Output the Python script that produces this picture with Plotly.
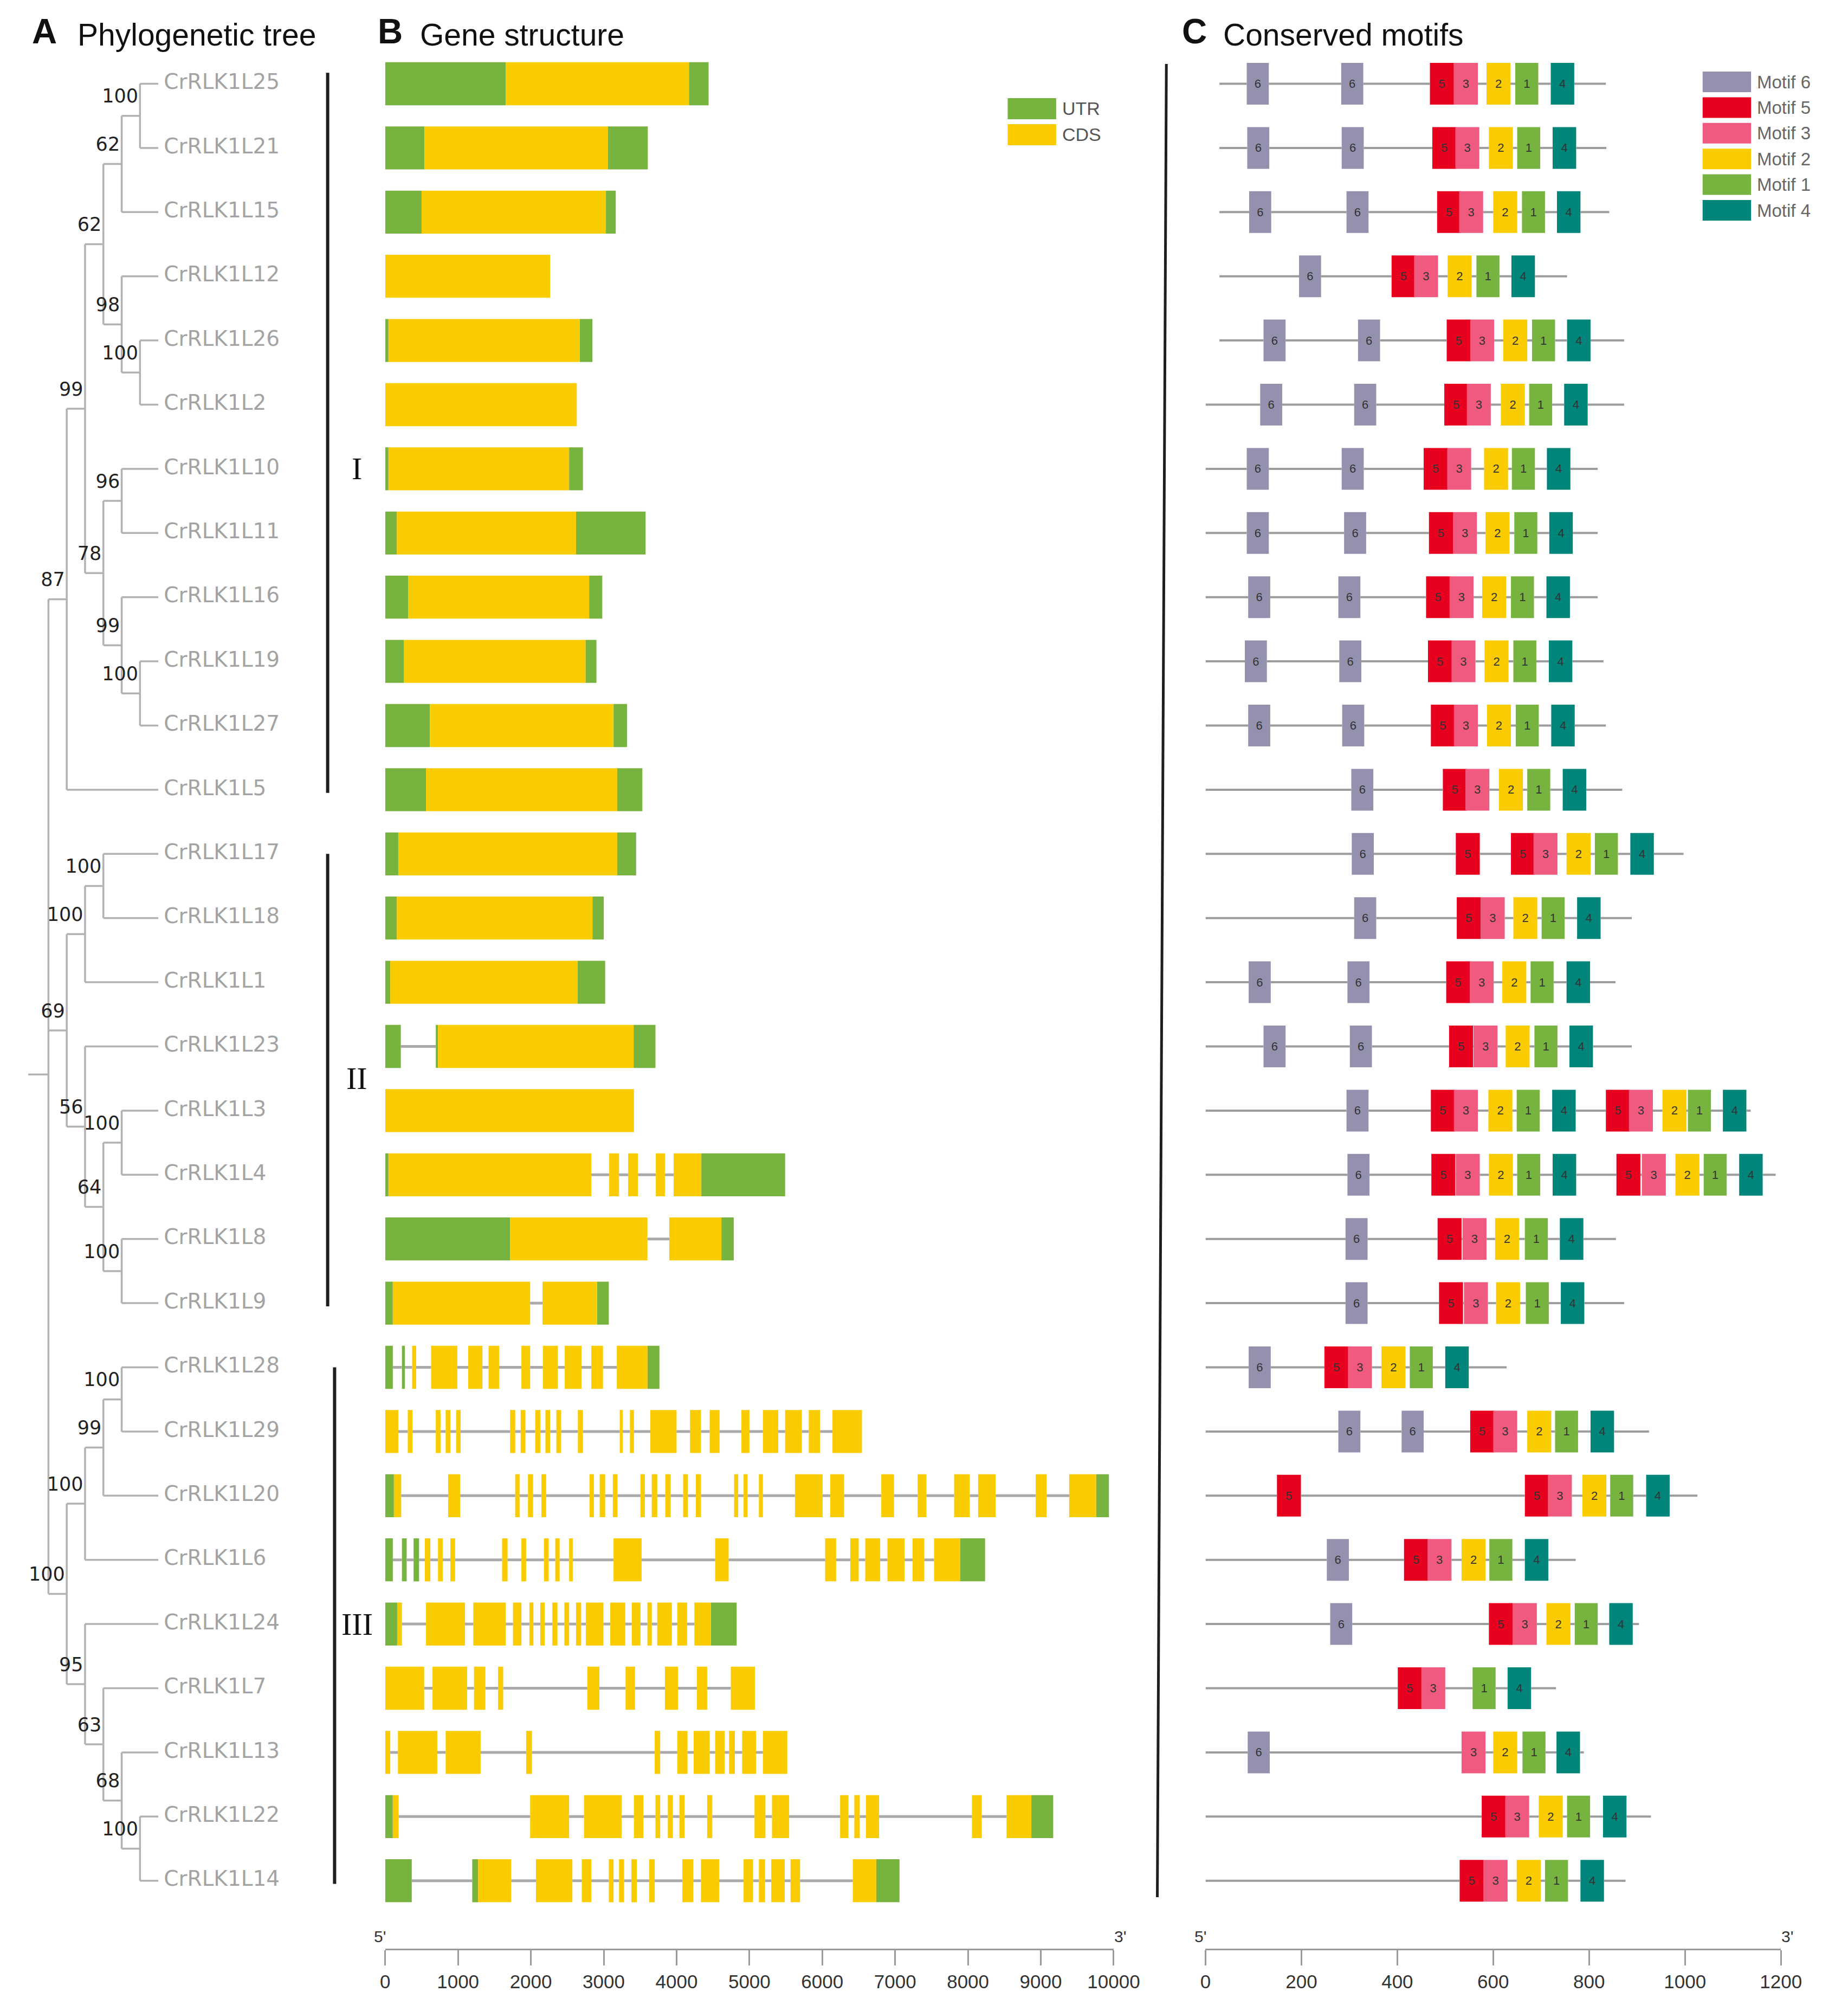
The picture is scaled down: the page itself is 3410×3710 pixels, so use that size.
import plotly.graph_objects as go

# -----------------------------------------------------------------------------
# canvas (page body keeps its default 8px margin, figure sized to fit window)
# -----------------------------------------------------------------------------
PAGE_W, PAGE_H, OFF = 3410, 3710, 8
W, H = PAGE_W - 2 * OFF, PAGE_H - 2 * OFF
FONT = "Liberation Sans, Arial, sans-serif"
LABEL_FONT = "DejaVu Sans, Arial, sans-serif"

UTR_COLOR = "#77b33f"
CDS_COLOR = "#facc00"
MOTIF_COLORS = {6: "#9491ae", 5: "#e8001f", 3: "#f05a7e",
                2: "#facc00", 1: "#77b33f", 4: "#00857a"}

# -----------------------------------------------------------------------------
# data
# -----------------------------------------------------------------------------
# topology (cladogram) with bootstrap support
NEWICK = ("((((((CrRLK1L25,CrRLK1L21)100,CrRLK1L15)62,(CrRLK1L12,(CrRLK1L26,CrRLK1L2)100)98)62,"
          "((CrRLK1L10,CrRLK1L11)96,(CrRLK1L16,(CrRLK1L19,CrRLK1L27)100)99)78)99,CrRLK1L5)87,"
          "(((CrRLK1L17,CrRLK1L18)100,CrRLK1L1)100,(CrRLK1L23,((CrRLK1L3,CrRLK1L4)100,"
          "(CrRLK1L8,CrRLK1L9)100)64)56)69,"
          "((((CrRLK1L28,CrRLK1L29)100,CrRLK1L20)99,CrRLK1L6)100,"
          "(CrRLK1L24,(CrRLK1L7,(CrRLK1L13,(CrRLK1L22,CrRLK1L14)100)68)63)95)100);")
PREFIX = "CrRLK1"

# gene structure (bp): UTR and CDS segments
UTR = {
    "L25": [(0, 1655), (4170, 4440)],
    "L21": [(0, 540), (3055, 3605)],
    "L15": [(0, 500), (3030, 3165)],
    "L12": [],
    "L26": [(0, 45), (2670, 2845)],
    "L2": [],
    "L10": [(0, 45), (2525, 2715)],
    "L11": [(0, 160), (2620, 3575)],
    "L16": [(0, 315), (2800, 2980)],
    "L19": [(0, 255), (2750, 2900)],
    "L27": [(0, 615), (3135, 3320)],
    "L5": [(0, 560), (3185, 3530)],
    "L17": [(0, 180), (3185, 3445)],
    "L18": [(0, 160), (2845, 3000)],
    "L1": [(0, 70), (2640, 3020)],
    "L23": [(0, 215), (695, 725), (3410, 3710)],
    "L3": [],
    "L4": [(0, 45), (4340, 5490)],
    "L8": [(0, 1715), (4615, 4785)],
    "L9": [(0, 105), (2910, 3070)],
    "L28": [(0, 105), (230, 270), (3600, 3765)],
    "L29": [],
    "L20": [(0, 120), (9760, 9935)],
    "L6": [(0, 105), (230, 295), (390, 465), (7895, 8235)],
    "L24": [(0, 165), (4470, 4825)],
    "L7": [],
    "L13": [],
    "L22": [(0, 105), (8870, 9170)],
    "L14": [(0, 365), (1195, 1275), (6740, 7060)],
}
CDS = {
    "L25": [(1655, 4170)],
    "L21": [(540, 3055)],
    "L15": [(500, 3030)],
    "L12": [(0, 2265)],
    "L26": [(45, 2670)],
    "L2": [(0, 2630)],
    "L10": [(45, 2525)],
    "L11": [(160, 2620)],
    "L16": [(315, 2800)],
    "L19": [(255, 2750)],
    "L27": [(615, 3135)],
    "L5": [(560, 3185)],
    "L17": [(180, 3185)],
    "L18": [(160, 2845)],
    "L1": [(70, 2640)],
    "L23": [(725, 3410)],
    "L3": [(0, 3415)],
    "L4": [(45, 2830), (3075, 3210), (3335, 3470), (3715, 3840), (3960, 4340)],
    "L8": [(1715, 3600), (3900, 4615)],
    "L9": [(105, 1990), (2160, 2910)],
    "L28": [(370, 425), (630, 990), (1140, 1335), (1420, 1565), (1870, 1990),
            (2165, 2370), (2465, 2695), (2830, 2990), (3180, 3600)],
    "L29": [(0, 180), (310, 375), (695, 760), (830, 895), (975, 1035), (1715, 1785),
            (1860, 1925), (2060, 2130), (2200, 2265), (2350, 2415), (2645, 2715),
            (3220, 3260), (3360, 3415), (3640, 4000), (4185, 4335), (4455, 4590),
            (4890, 5000), (5185, 5395), (5490, 5720), (5815, 5970), (6140, 6545)],
    "L20": [(120, 220), (865, 1030), (1785, 1845), (1960, 2030), (2145, 2210),
            (2805, 2865), (2945, 3020), (3125, 3190), (3505, 3565), (3660, 3735),
            (3845, 3920), (4090, 4155), (4265, 4335), (4790, 4845), (4920, 4975),
            (5130, 5185), (5625, 6005), (6110, 6300), (6810, 6985), (7310, 7430),
            (7810, 8025), (8140, 8380), (8930, 9080), (9390, 9760)],
    "L6": [(545, 620), (725, 790), (895, 960), (1605, 1680), (1870, 1935), (2180, 2245),
           (2335, 2395), (2525, 2575), (3135, 3520), (4530, 4715), (6040, 6190),
           (6385, 6500), (6590, 6795), (6895, 7130), (7240, 7400), (7535, 7895)],
    "L24": [(165, 230), (560, 1095), (1210, 1655), (1755, 1870), (1980, 2035),
            (2130, 2190), (2295, 2365), (2460, 2525), (2620, 2690), (2755, 2995),
            (3090, 3295), (3385, 3505), (3600, 3660), (3735, 3935), (4010, 4145),
            (4245, 4470)],
    "L7": [(0, 535), (650, 1125), (1220, 1375), (1550, 1620), (2775, 2940),
           (3300, 3430), (3840, 4020), (4280, 4420), (4745, 5075)],
    "L13": [(0, 70), (175, 715), (830, 1310), (1935, 2015), (3700, 3775), (4010, 4150),
            (4235, 4455), (4530, 4660), (4720, 4800), (4900, 5090), (5185, 5520)],
    "L22": [(105, 185), (1990, 2525), (2730, 3245), (3415, 3545), (3710, 3775),
            (3880, 3950), (4040, 4110), (4420, 4490), (5070, 5220), (5310, 5545),
            (6245, 6360), (6440, 6515), (6600, 6780), (8055, 8190), (8530, 8870)],
    "L14": [(1275, 1730), (2070, 2570), (2700, 2830), (3070, 3135), (3210, 3280),
            (3380, 3455), (3625, 3700), (4080, 4230), (4335, 4585), (4920, 5050),
            (5130, 5215), (5300, 5485), (5565, 5695), (6420, 6740)],
}

# protein backbone (aa) and motif starts (motif id, start aa)
PROT_SPAN = {
    "L25": (29, 835), "L21": (29, 836), "L15": (29, 842), "L12": (29, 754),
    "L26": (29, 873), "L2": (0, 873), "L10": (0, 818), "L11": (0, 818),
    "L16": (0, 818), "L19": (0, 830), "L27": (0, 835), "L5": (0, 869),
    "L17": (0, 997), "L18": (0, 889), "L1": (0, 855), "L23": (0, 889),
    "L3": (0, 1137), "L4": (0, 1189), "L8": (0, 856), "L9": (0, 873),
    "L28": (0, 628), "L29": (0, 925), "L20": (0, 1026), "L6": (0, 772),
    "L24": (0, 904), "L7": (0, 731), "L13": (0, 789), "L22": (0, 929),
    "L14": (0, 876),
}
MOTIFS = {
    "L25": [(6, 86), (6, 283), (5, 468), (3, 518), (2, 586), (1, 646), (4, 720)],
    "L21": [(6, 87), (6, 284), (5, 473), (3, 521), (2, 591), (1, 650), (4, 724)],
    "L15": [(6, 91), (6, 294), (5, 483), (3, 529), (2, 600), (1, 660), (4, 733)],
    "L12": [(6, 195), (5, 388), (3, 435), (2, 505), (1, 565), (4, 638)],
    "L26": [(6, 121), (6, 318), (5, 503), (3, 552), (2, 621), (1, 681), (4, 754)],
    "L2": [(6, 114), (6, 310), (5, 498), (3, 545), (2, 616), (1, 675), (4, 748)],
    "L10": [(6, 86), (6, 284), (5, 455), (3, 504), (2, 581), (1, 639), (4, 712)],
    "L11": [(6, 86), (6, 289), (5, 466), (3, 516), (2, 584), (1, 644), (4, 717)],
    "L16": [(6, 89), (6, 277), (5, 460), (3, 509), (2, 577), (1, 637), (4, 711)],
    "L19": [(6, 82), (6, 279), (5, 464), (3, 513), (2, 582), (1, 642), (4, 716)],
    "L27": [(6, 89), (6, 285), (5, 470), (3, 518), (2, 587), (1, 647), (4, 721)],
    "L5": [(6, 304), (5, 495), (3, 542), (2, 612), (1, 671), (4, 745)],
    "L17": [(6, 305), (5, 522), (5, 637), (3, 684), (2, 753), (1, 812), (4, 886)],
    "L18": [(6, 310), (5, 524), (3, 574), (2, 642), (1, 701), (4, 775)],
    "L1": [(6, 90), (6, 296), (5, 502), (3, 551), (2, 619), (1, 678), (4, 753)],
    "L23": [(6, 121), (6, 301), (5, 508), (3, 559), (2, 626), (1, 686), (4, 759)],
    "L3": [(6, 294), (5, 470), (3, 518), (2, 590), (1, 649), (4, 723),
           (5, 835), (3, 883), (2, 953), (1, 1006), (4, 1079)],
    "L4": [(6, 296), (5, 471), (3, 522), (2, 591), (1, 650), (4, 724),
           (5, 857), (3, 910), (2, 980), (1, 1039), (4, 1113)],
    "L8": [(6, 292), (5, 484), (3, 536), (2, 604), (1, 666), (4, 739)],
    "L9": [(6, 292), (5, 487), (3, 539), (2, 606), (1, 668), (4, 741)],
    "L28": [(6, 90), (5, 248), (3, 297), (2, 367), (1, 426), (4, 500)],
    "L29": [(6, 277), (6, 409), (5, 552), (3, 600), (2, 671), (1, 729), (4, 803)],
    "L20": [(5, 149), (5, 666), (3, 714), (2, 786), (1, 844), (4, 919)],
    "L6": [(6, 253), (5, 414), (3, 463), (2, 534), (1, 592), (4, 666)],
    "L24": [(6, 260), (5, 591), (3, 641), (2, 711), (1, 770), (4, 842)],
    "L7": [(5, 401), (3, 450), (1, 557), (4, 630)],
    "L13": [(6, 88), (3, 534), (2, 600), (1, 661), (4, 732)],
    "L22": [(5, 576), (3, 625), (2, 695), (1, 754), (4, 829)],
    "L14": [(5, 530), (3, 580), (2, 649), (1, 708), (4, 782)],
}
MOTIF_LEN = {6: 46, 5: 50, 3: 50, 2: 50, 1: 48, 4: 49}
MOTIF_ORDER = [6, 5, 3, 2, 1, 4]

CLADES = ["I", "II", "III"]
CLADE_FIRST = ["CrRLK1L25", "CrRLK1L17", "CrRLK1L28"]
CLADE_LAST = ["CrRLK1L5", "CrRLK1L9", "CrRLK1L14"]

GENE_TICKS = list(range(0, 10001, 1000))
MOTIF_TICKS = list(range(0, 1201, 200))

# -----------------------------------------------------------------------------
# tree parsing / layout
# -----------------------------------------------------------------------------
TIP_DEPTH = 6


def parse_newick(s):
    s = s.strip().rstrip(";")
    pos = 0

    def node():
        nonlocal pos
        if s[pos] == "(":
            pos += 1
            kids = [node()]
            while s[pos] == ",":
                pos += 1
                kids.append(node())
            pos += 1
            j = pos
            while pos < len(s) and s[pos] not in ",)":
                pos += 1
            return {"kids": kids, "support": s[j:pos]}
        j = pos
        while pos < len(s) and s[pos] not in ",)":
            pos += 1
        return {"name": s[j:pos], "kids": []}

    return node()


tree = parse_newick(NEWICK)
tips = []


def place(n, depth):
    if not n["kids"]:
        n["x"], n["y"] = TIP_DEPTH, len(tips)
        tips.append(n["name"])
        return
    n["x"] = depth
    for k in n["kids"]:
        place(k, depth + 1)
    n["y"] = sum(k["y"] for k in n["kids"]) / len(n["kids"])


place(tree, 0)
row_of = {name: i for i, name in enumerate(tips)}

tx, ty, sup_x, sup_y, sup_t = [], [], [], [], []


def collect(n):
    if not n["kids"]:
        return
    ys = [k["y"] for k in n["kids"]]
    tx.extend([n["x"], n["x"], None])
    ty.extend([min(ys), max(ys), None])
    for k in n["kids"]:
        tx.extend([n["x"], k["x"], None])
        ty.extend([k["y"], k["y"], None])
        collect(k)
    if n.get("support"):
        sup_x.append(n["x"] - 0.1)
        sup_y.append(n["y"] - 0.28)
        sup_t.append(n["support"])


collect(tree)
tx.extend([-1.1, 0, None])
ty.extend([tree["y"], tree["y"], None])


def gaps(lo, hi, boxes):
    """Backbone pieces between boxes (bars sit above scatter lines otherwise)."""
    out, cur = [], lo
    for s, e in sorted(boxes):
        if s > cur:
            out.append((cur, s))
        cur = max(cur, e)
    if hi > cur:
        out.append((cur, hi))
    return out


# -----------------------------------------------------------------------------
# figure
# -----------------------------------------------------------------------------
fig = go.Figure()

# A: tree
fig.add_trace(go.Scatter(x=tx, y=ty, mode="lines", xaxis="x", yaxis="y",
                         line=dict(color="#b2b2b2", width=3.5)))
fig.add_trace(go.Scatter(x=[TIP_DEPTH + 0.3] * len(tips), y=list(range(len(tips))),
                         text=tips, mode="text", textposition="middle right",
                         textfont=dict(family=LABEL_FONT, size=39, color="#a3a3a3"),
                         cliponaxis=False, xaxis="x", yaxis="y"))
fig.add_trace(go.Scatter(x=sup_x, y=sup_y, text=sup_t, mode="text",
                         textposition="middle left",
                         textfont=dict(family=LABEL_FONT, size=35, color="#222"),
                         cliponaxis=False, xaxis="x", yaxis="y"))

# B: gene structure
ix, iy = [], []
utr_b, utr_l, utr_y, cds_b, cds_l, cds_y = [], [], [], [], [], []
for key in UTR:
    r = row_of[PREFIX + key]
    segs = UTR[key] + CDS[key]
    for s, e in gaps(0, max(e for _, e in segs), segs):
        ix.extend([s, e, None])
        iy.extend([r, r, None])
    for s, e in UTR[key]:
        utr_b.append(s); utr_l.append(e - s); utr_y.append(r)
    for s, e in CDS[key]:
        cds_b.append(s); cds_l.append(e - s); cds_y.append(r)

fig.add_trace(go.Scatter(x=ix, y=iy, mode="lines", xaxis="x2", yaxis="y",
                         line=dict(color="#a9a9a9", width=5)))
fig.add_trace(go.Bar(x=utr_l, base=utr_b, y=utr_y, orientation="h", width=0.67,
                     marker=dict(color=UTR_COLOR, line_width=0), xaxis="x2", yaxis="y"))
fig.add_trace(go.Bar(x=cds_l, base=cds_b, y=cds_y, orientation="h", width=0.67,
                     marker=dict(color=CDS_COLOR, line_width=0), xaxis="x2", yaxis="y"))

# C: conserved motifs
bx, by = [], []
for key, (s0, e0) in PROT_SPAN.items():
    r = row_of[PREFIX + key]
    boxes = [(st, st + MOTIF_LEN[m]) for m, st in MOTIFS[key]]
    for s, e in gaps(s0, e0, boxes):
        bx.extend([s, e, None])
        by.extend([r, r, None])
fig.add_trace(go.Scatter(x=bx, y=by, mode="lines", xaxis="x3", yaxis="y",
                         line=dict(color="#9c9c9c", width=4)))

for m in MOTIF_ORDER:
    base, rows = [], []
    for key, lst in MOTIFS.items():
        for mid, start in lst:
            if mid == m:
                base.append(start)
                rows.append(row_of[PREFIX + key])
    fig.add_trace(go.Bar(x=[MOTIF_LEN[m]] * len(base), base=base, y=rows,
                         orientation="h", width=0.65, text=[str(m)] * len(base),
                         textposition="inside", insidetextanchor="middle", textangle=0,
                         textfont=dict(family=FONT, size=22, color="#333"),
                         marker=dict(color=MOTIF_COLORS[m], line_width=0),
                         xaxis="x3", yaxis="y"))


# -----------------------------------------------------------------------------
# layout helpers (page pixel -> paper)
# -----------------------------------------------------------------------------
def pxx(v):
    return (v - OFF) / W


def pxy(v):
    return 1 - (v - OFF) / H


ROW0, ROWSTEP, AXIS_Y = 154.5, 118.4, 3595
y_top = (OFF - ROW0) / ROWSTEP
y_bot = (AXIS_Y - ROW0) / ROWSTEP
tree_left, tree_right, root_px, step_px = 30, 300, 80.6, 34.4

axis_style = dict(anchor="y", showgrid=False, zeroline=False, showline=True,
                  linecolor="#9a9a9a", linewidth=3, ticks="outside", ticklen=28,
                  tickwidth=3, tickcolor="#9a9a9a",
                  tickfont=dict(family=FONT, size=35, color="#333"))

shapes, annos = [], []

# clade bars
clade_x = [605, 605, 618]
clade_label_row = [6, 15.5, 24]
for i, lab in enumerate(CLADES):
    y0 = row_of[CLADE_FIRST[i]] - (0.17 if i == 0 else 0)
    y1 = row_of[CLADE_LAST[i]] + 0.05
    shapes.append(dict(type="line", xref="paper", yref="y", x0=pxx(clade_x[i]),
                       x1=pxx(clade_x[i]), y0=y0, y1=y1,
                       line=dict(color="#1e1e1e", width=6)))
    annos.append(dict(text=lab, xref="paper", yref="y", x=pxx(660), y=clade_label_row[i],
                      showarrow=False, xanchor="center", yanchor="middle",
                      font=dict(family="Liberation Serif, Times New Roman, serif",
                                size=58, color="#111")))

# separator line of motif panel
shapes.append(dict(type="line", xref="paper", yref="paper", x0=pxx(2180), y0=pxy(118),
                   x1=pxx(2163), y1=pxy(3500), line=dict(color="#1e1e1e", width=5)))

# gene legend
for i, (lab, col) in enumerate([("UTR", UTR_COLOR), ("CDS", CDS_COLOR)]):
    y0 = 181 + 48 * i
    shapes.append(dict(type="rect", xref="paper", yref="paper", x0=pxx(1882), x1=pxx(1973),
                       y0=pxy(y0), y1=pxy(y0 + 39), fillcolor=col, line_width=0))
    annos.append(dict(text=lab, xref="paper", yref="paper", x=pxx(1982), y=pxy(y0 + 19),
                      showarrow=False, xanchor="left", yanchor="middle",
                      font=dict(family=FONT, size=34, color="#555")))

# motif legend
for i, m in enumerate(MOTIF_ORDER):
    y0 = 132 + 47.4 * i
    shapes.append(dict(type="rect", xref="paper", yref="paper", x0=pxx(3187), x1=pxx(3278),
                       y0=pxy(y0), y1=pxy(y0 + 38), fillcolor=MOTIF_COLORS[m], line_width=0))
    annos.append(dict(text=f"Motif {m}", xref="paper", yref="paper", x=pxx(3287),
                      y=pxy(y0 + 19), showarrow=False, xanchor="left", yanchor="middle",
                      font=dict(family=FONT, size=33, color="#666")))

# panel titles
for letter, lx, title, ttx in [("A", 48, "Phylogenetic tree", 133),
                               ("B", 697, "Gene structure", 776),
                               ("C", 2207, "Conserved motifs", 2285)]:
    annos.append(dict(text=f"<b>{letter}</b>", xref="paper", yref="paper", x=pxx(lx),
                      y=pxy(58), showarrow=False, xanchor="left", yanchor="middle",
                      font=dict(family=FONT, size=64, color="#111")))
    annos.append(dict(text=title, xref="paper", yref="paper", x=pxx(ttx), y=pxy(64),
                      showarrow=False, xanchor="left", yanchor="middle",
                      font=dict(family=FONT, size=57, color="#111")))

# 5' / 3' marks
for left, right in [(713, 2081), (2253.5, 3334)]:
    for txt, xx in [("5'", left - 10), ("3'", right + 12)]:
        annos.append(dict(text=txt, xref="paper", yref="paper", x=pxx(xx), y=pxy(AXIS_Y - 4),
                          showarrow=False, xanchor="center", yanchor="bottom",
                          font=dict(family=FONT, size=30, color="#333")))

fig.update_layout(
    width=W, height=H, margin=dict(l=0, r=0, t=0, b=0),
    paper_bgcolor="white", plot_bgcolor="white",
    showlegend=False, barmode="overlay", hovermode=False,
    xaxis=dict(domain=[pxx(tree_left), pxx(tree_right)],
               range=[(tree_left - root_px) / step_px, (tree_right - root_px) / step_px],
               visible=False, anchor="y"),
    xaxis2=dict(domain=[pxx(713), pxx(2081)], range=[0, 10000],
                tickvals=GENE_TICKS, ticktext=[str(v) for v in GENE_TICKS], **axis_style),
    xaxis3=dict(domain=[pxx(2253.5), pxx(3334)], range=[0, 1200],
                tickvals=MOTIF_TICKS, ticktext=[str(v) for v in MOTIF_TICKS], **axis_style),
    yaxis=dict(domain=[pxy(AXIS_Y), 1], range=[y_bot, y_top], visible=False,
               anchor="x"),
    shapes=shapes, annotations=annos,
)

fig.write_html("out.html", config={"displayModeBar": False})
